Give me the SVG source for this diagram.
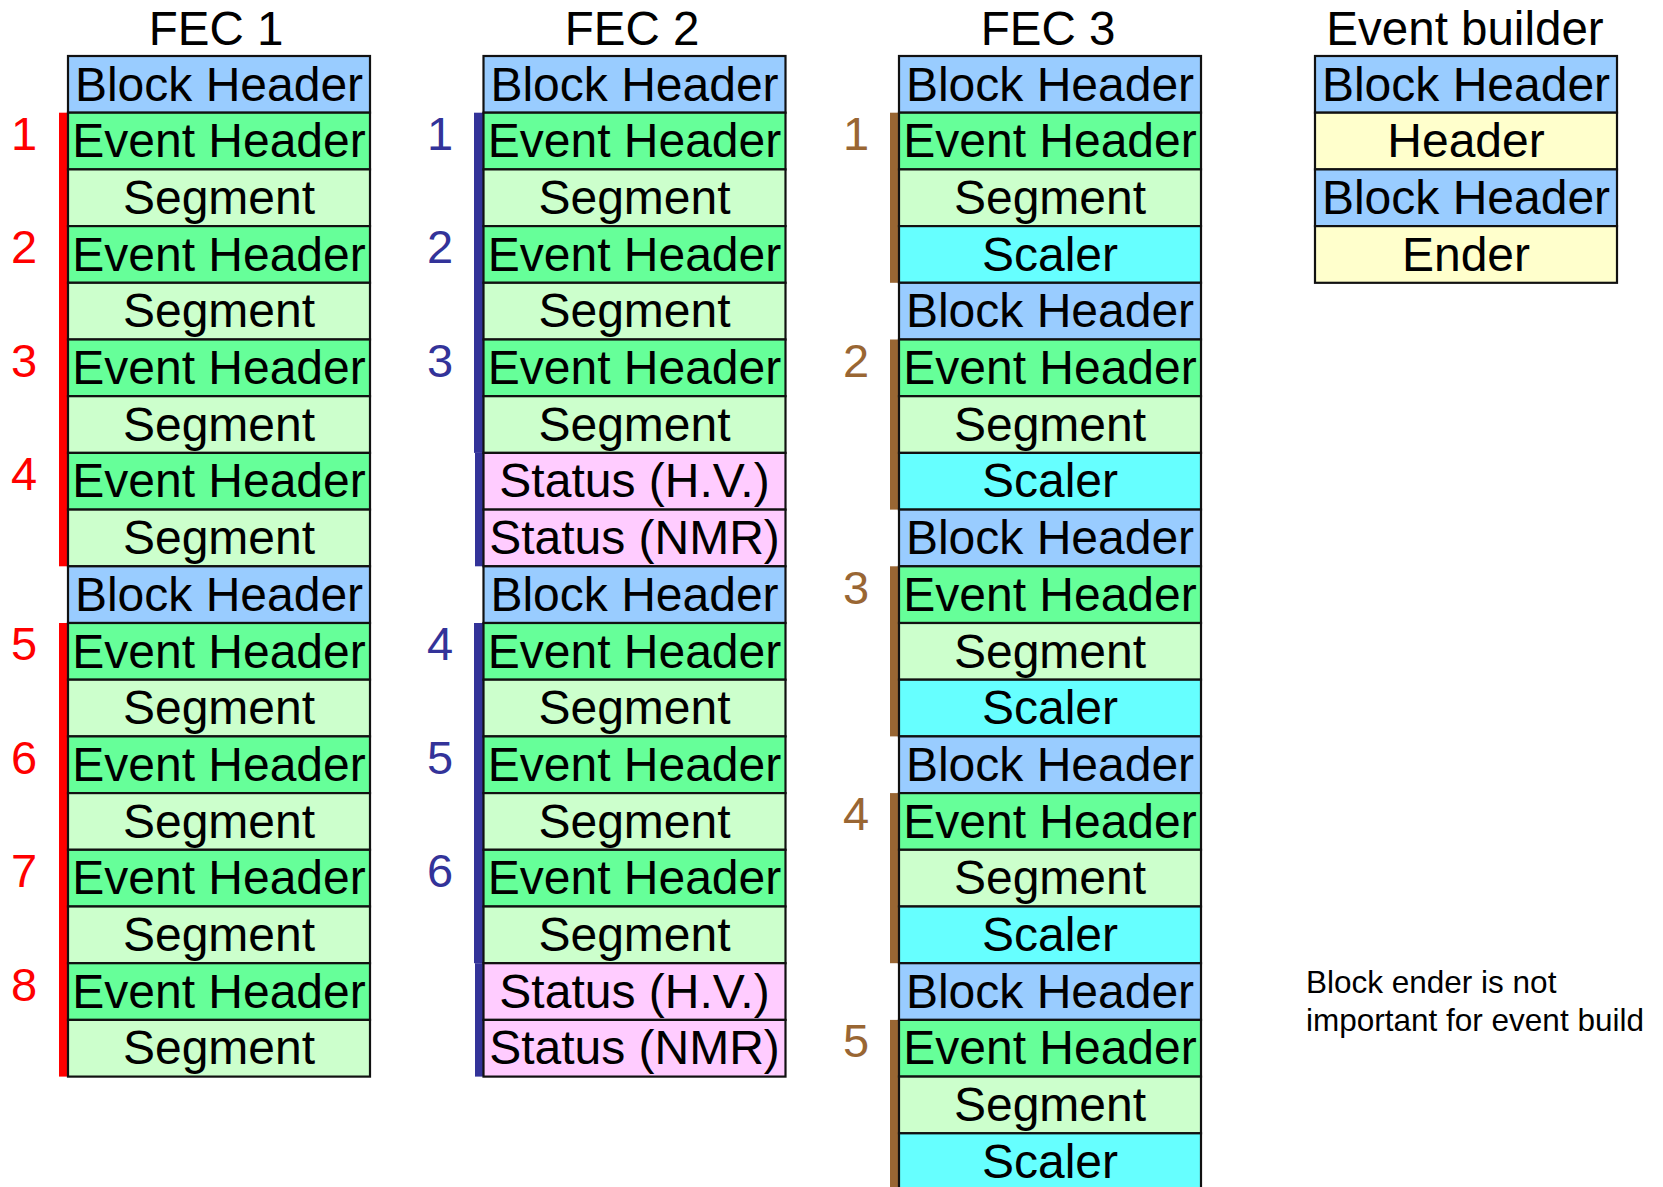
<svg xmlns="http://www.w3.org/2000/svg" width="1663" height="1187" viewBox="0 0 1663 1187">
<style>
text{font-family:"Liberation Sans",Arial,sans-serif}
.c rect{stroke:#111;stroke-width:2.2}
.c text{font-size:48px;text-anchor:middle;fill:#000}
.bh rect{fill:#99CCFF}
.eh rect{fill:#66FF99}
.sg rect{fill:#CCFFCC}
.sc rect{fill:#66FFFF}
.st rect{fill:#FFCCFF}
.yl rect{fill:#FFFFCC}
.ttl{font-size:47.5px;text-anchor:middle;fill:#000}
.n{font-size:47px;text-anchor:middle}
.r{fill:#FF0000}
.b{fill:#333399}
.o{fill:#996633}
.note{font-size:31.5px;fill:#000}
</style>
<rect width="1663" height="1187" fill="#fff"/>
<g id="titles">
<text class="ttl" x="216" y="45">FEC 1</text>
<text class="ttl" x="632" y="45">FEC 2</text>
<text class="ttl" x="1048" y="45">FEC 3</text>
<text class="ttl" x="1465" y="45">Event builder</text>
</g>
<g id="connectors">
<rect class="r" x="59" y="112.7" width="9" height="453.6"/>
<rect class="r" x="59" y="623" width="9" height="453.6"/>
<rect class="b" x="474" y="112.7" width="9.5" height="340.2"/>
<rect class="b" x="475" y="452.9" width="8.5" height="113.4"/>
<rect class="b" x="474" y="623" width="9.5" height="340.2"/>
<rect class="b" x="475" y="963.2" width="8.5" height="113.4"/>
<rect class="o" x="890" y="112.7" width="9" height="170.1"/>
<rect class="o" x="890" y="339.5" width="9" height="170.1"/>
<rect class="o" x="890" y="566.3" width="9" height="170.1"/>
<rect class="o" x="890" y="793.1" width="9" height="170.1"/>
<rect class="o" x="890" y="1019.9" width="9" height="170.1"/>
</g>
<g id="labels">
<text class="n r" x="24" y="150">1</text>
<text class="n r" x="24" y="263.4">2</text>
<text class="n r" x="24" y="376.8">3</text>
<text class="n r" x="24" y="490.2">4</text>
<text class="n r" x="24" y="660.3">5</text>
<text class="n r" x="24" y="773.7">6</text>
<text class="n r" x="24" y="887.1">7</text>
<text class="n r" x="24" y="1000.5">8</text>
<text class="n b" x="440" y="150">1</text>
<text class="n b" x="440" y="263.4">2</text>
<text class="n b" x="440" y="376.8">3</text>
<text class="n b" x="440" y="660.3">4</text>
<text class="n b" x="440" y="773.7">5</text>
<text class="n b" x="440" y="887.1">6</text>
<text class="n o" x="856" y="150">1</text>
<text class="n o" x="856" y="376.8">2</text>
<text class="n o" x="856" y="603.6">3</text>
<text class="n o" x="856" y="830.4">4</text>
<text class="n o" x="856" y="1057.2">5</text>
</g>
<g id="fec1">
<g id="f1-0" class="c bh"><rect x="68" y="56" width="302" height="56.7"/><text x="219" y="100.5">Block Header</text></g>
<g id="f1-1" class="c eh"><rect x="68" y="112.7" width="302" height="56.7"/><text x="219" y="157.2">Event Header</text></g>
<g id="f1-2" class="c sg"><rect x="68" y="169.4" width="302" height="56.7"/><text x="219" y="213.9">Segment</text></g>
<g id="f1-3" class="c eh"><rect x="68" y="226.1" width="302" height="56.7"/><text x="219" y="270.6">Event Header</text></g>
<g id="f1-4" class="c sg"><rect x="68" y="282.8" width="302" height="56.7"/><text x="219" y="327.3">Segment</text></g>
<g id="f1-5" class="c eh"><rect x="68" y="339.5" width="302" height="56.7"/><text x="219" y="384">Event Header</text></g>
<g id="f1-6" class="c sg"><rect x="68" y="396.2" width="302" height="56.7"/><text x="219" y="440.7">Segment</text></g>
<g id="f1-7" class="c eh"><rect x="68" y="452.9" width="302" height="56.7"/><text x="219" y="497.4">Event Header</text></g>
<g id="f1-8" class="c sg"><rect x="68" y="509.6" width="302" height="56.7"/><text x="219" y="554.1">Segment</text></g>
<g id="f1-9" class="c bh"><rect x="68" y="566.3" width="302" height="56.7"/><text x="219" y="610.8">Block Header</text></g>
<g id="f1-10" class="c eh"><rect x="68" y="623" width="302" height="56.7"/><text x="219" y="667.5">Event Header</text></g>
<g id="f1-11" class="c sg"><rect x="68" y="679.7" width="302" height="56.7"/><text x="219" y="724.2">Segment</text></g>
<g id="f1-12" class="c eh"><rect x="68" y="736.4" width="302" height="56.7"/><text x="219" y="780.9">Event Header</text></g>
<g id="f1-13" class="c sg"><rect x="68" y="793.1" width="302" height="56.7"/><text x="219" y="837.6">Segment</text></g>
<g id="f1-14" class="c eh"><rect x="68" y="849.8" width="302" height="56.7"/><text x="219" y="894.3">Event Header</text></g>
<g id="f1-15" class="c sg"><rect x="68" y="906.5" width="302" height="56.7"/><text x="219" y="951">Segment</text></g>
<g id="f1-16" class="c eh"><rect x="68" y="963.2" width="302" height="56.7"/><text x="219" y="1007.7">Event Header</text></g>
<g id="f1-17" class="c sg"><rect x="68" y="1019.9" width="302" height="56.7"/><text x="219" y="1064.4">Segment</text></g>
</g>
<g id="fec2">
<g id="f2-0" class="c bh"><rect x="483.5" y="56" width="302" height="56.7"/><text x="634.5" y="100.5">Block Header</text></g>
<g id="f2-1" class="c eh"><rect x="483.5" y="112.7" width="302" height="56.7"/><text x="634.5" y="157.2">Event Header</text></g>
<g id="f2-2" class="c sg"><rect x="483.5" y="169.4" width="302" height="56.7"/><text x="634.5" y="213.9">Segment</text></g>
<g id="f2-3" class="c eh"><rect x="483.5" y="226.1" width="302" height="56.7"/><text x="634.5" y="270.6">Event Header</text></g>
<g id="f2-4" class="c sg"><rect x="483.5" y="282.8" width="302" height="56.7"/><text x="634.5" y="327.3">Segment</text></g>
<g id="f2-5" class="c eh"><rect x="483.5" y="339.5" width="302" height="56.7"/><text x="634.5" y="384">Event Header</text></g>
<g id="f2-6" class="c sg"><rect x="483.5" y="396.2" width="302" height="56.7"/><text x="634.5" y="440.7">Segment</text></g>
<g id="f2-7" class="c st"><rect x="483.5" y="452.9" width="302" height="56.7"/><text x="634.5" y="497.4">Status (H.V.)</text></g>
<g id="f2-8" class="c st"><rect x="483.5" y="509.6" width="302" height="56.7"/><text x="634.5" y="554.1">Status (NMR)</text></g>
<g id="f2-9" class="c bh"><rect x="483.5" y="566.3" width="302" height="56.7"/><text x="634.5" y="610.8">Block Header</text></g>
<g id="f2-10" class="c eh"><rect x="483.5" y="623" width="302" height="56.7"/><text x="634.5" y="667.5">Event Header</text></g>
<g id="f2-11" class="c sg"><rect x="483.5" y="679.7" width="302" height="56.7"/><text x="634.5" y="724.2">Segment</text></g>
<g id="f2-12" class="c eh"><rect x="483.5" y="736.4" width="302" height="56.7"/><text x="634.5" y="780.9">Event Header</text></g>
<g id="f2-13" class="c sg"><rect x="483.5" y="793.1" width="302" height="56.7"/><text x="634.5" y="837.6">Segment</text></g>
<g id="f2-14" class="c eh"><rect x="483.5" y="849.8" width="302" height="56.7"/><text x="634.5" y="894.3">Event Header</text></g>
<g id="f2-15" class="c sg"><rect x="483.5" y="906.5" width="302" height="56.7"/><text x="634.5" y="951">Segment</text></g>
<g id="f2-16" class="c st"><rect x="483.5" y="963.2" width="302" height="56.7"/><text x="634.5" y="1007.7">Status (H.V.)</text></g>
<g id="f2-17" class="c st"><rect x="483.5" y="1019.9" width="302" height="56.7"/><text x="634.5" y="1064.4">Status (NMR)</text></g>
</g>
<g id="fec3">
<g id="f3-0" class="c bh"><rect x="899" y="56" width="302" height="56.7"/><text x="1050" y="100.5">Block Header</text></g>
<g id="f3-1" class="c eh"><rect x="899" y="112.7" width="302" height="56.7"/><text x="1050" y="157.2">Event Header</text></g>
<g id="f3-2" class="c sg"><rect x="899" y="169.4" width="302" height="56.7"/><text x="1050" y="213.9">Segment</text></g>
<g id="f3-3" class="c sc"><rect x="899" y="226.1" width="302" height="56.7"/><text x="1050" y="270.6">Scaler</text></g>
<g id="f3-4" class="c bh"><rect x="899" y="282.8" width="302" height="56.7"/><text x="1050" y="327.3">Block Header</text></g>
<g id="f3-5" class="c eh"><rect x="899" y="339.5" width="302" height="56.7"/><text x="1050" y="384">Event Header</text></g>
<g id="f3-6" class="c sg"><rect x="899" y="396.2" width="302" height="56.7"/><text x="1050" y="440.7">Segment</text></g>
<g id="f3-7" class="c sc"><rect x="899" y="452.9" width="302" height="56.7"/><text x="1050" y="497.4">Scaler</text></g>
<g id="f3-8" class="c bh"><rect x="899" y="509.6" width="302" height="56.7"/><text x="1050" y="554.1">Block Header</text></g>
<g id="f3-9" class="c eh"><rect x="899" y="566.3" width="302" height="56.7"/><text x="1050" y="610.8">Event Header</text></g>
<g id="f3-10" class="c sg"><rect x="899" y="623" width="302" height="56.7"/><text x="1050" y="667.5">Segment</text></g>
<g id="f3-11" class="c sc"><rect x="899" y="679.7" width="302" height="56.7"/><text x="1050" y="724.2">Scaler</text></g>
<g id="f3-12" class="c bh"><rect x="899" y="736.4" width="302" height="56.7"/><text x="1050" y="780.9">Block Header</text></g>
<g id="f3-13" class="c eh"><rect x="899" y="793.1" width="302" height="56.7"/><text x="1050" y="837.6">Event Header</text></g>
<g id="f3-14" class="c sg"><rect x="899" y="849.8" width="302" height="56.7"/><text x="1050" y="894.3">Segment</text></g>
<g id="f3-15" class="c sc"><rect x="899" y="906.5" width="302" height="56.7"/><text x="1050" y="951">Scaler</text></g>
<g id="f3-16" class="c bh"><rect x="899" y="963.2" width="302" height="56.7"/><text x="1050" y="1007.7">Block Header</text></g>
<g id="f3-17" class="c eh"><rect x="899" y="1019.9" width="302" height="56.7"/><text x="1050" y="1064.4">Event Header</text></g>
<g id="f3-18" class="c sg"><rect x="899" y="1076.6" width="302" height="56.7"/><text x="1050" y="1121.1">Segment</text></g>
<g id="f3-19" class="c sc"><rect x="899" y="1133.3" width="302" height="56.7"/><text x="1050" y="1177.8">Scaler</text></g>
</g>
<g id="eventbuilder">
<g id="eb-0" class="c bh"><rect x="1315" y="56" width="302" height="56.7"/><text x="1466" y="100.5">Block Header</text></g>
<g id="eb-1" class="c yl"><rect x="1315" y="112.7" width="302" height="56.7"/><text x="1466" y="157.2">Header</text></g>
<g id="eb-2" class="c bh"><rect x="1315" y="169.4" width="302" height="56.7"/><text x="1466" y="213.9">Block Header</text></g>
<g id="eb-3" class="c yl"><rect x="1315" y="226.1" width="302" height="56.7"/><text x="1466" y="270.6">Ender</text></g>
</g>
<g id="note">
<text class="note" x="1306" y="993">Block ender is not</text>
<text class="note" x="1306" y="1031">important for event build</text>
</g>
</svg>
